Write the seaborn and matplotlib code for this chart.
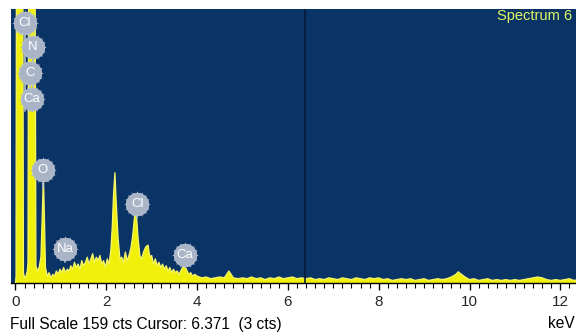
import numpy as np
import pandas as pd
import matplotlib
matplotlib.use("Agg")
import matplotlib.pyplot as plt
import seaborn as sns
from matplotlib.ticker import MultipleLocator

# ---------------- data ----------------
# low-energy part of the spectrum (keV, counts)
low_kev = [0.00, 0.012, 0.02, 0.16, 0.175, 0.20, 0.23, 0.26, 0.275, 0.29, 0.43, 0.45,
           0.48, 0.52, 0.56, 0.59, 0.615, 0.64, 0.66, 0.70,
           0.74, 0.78, 0.82, 0.86, 0.90, 0.94, 0.98, 1.02, 1.06, 1.10, 1.14, 1.18,
           1.22, 1.26, 1.30, 1.34, 1.38, 1.42, 1.46, 1.50, 1.54, 1.58, 1.62, 1.66,
           1.70, 1.74, 1.78, 1.82, 1.86, 1.90, 1.94, 1.98, 2.02, 2.06, 2.10, 2.13,
           2.16, 2.19, 2.22, 2.26, 2.30, 2.34, 2.38, 2.42, 2.46, 2.50, 2.54, 2.58,
           2.62, 2.66, 2.70, 2.74, 2.78, 2.82, 2.87, 2.92, 2.96, 3.00, 3.04, 3.08,
           3.12, 3.16, 3.20, 3.24, 3.28, 3.32, 3.36, 3.40, 3.44, 3.48, 3.52, 3.56,
           3.60, 3.64, 3.68, 3.73, 3.78, 3.82, 3.86, 3.90, 3.95, 4.00]
low_cts = [0, 4, 200, 200, 6, 3, 4, 7, 12, 200, 200, 10,
           7, 9, 15, 40, 63, 35, 9, 4,
           6, 3, 5, 4, 7, 5, 8, 6, 9, 6, 8, 7,
           10, 8, 12, 9, 11, 8, 13, 10, 12, 15, 11, 14,
           17, 12, 15, 13, 16, 11, 13, 9, 14, 11, 19, 32,
           52, 64, 46, 26, 14, 15, 12, 18, 13, 16, 20, 27,
           38, 41, 26, 16, 14, 18, 21, 22, 15, 16, 11, 14,
           10, 12, 9, 11, 8, 10, 7, 9, 6, 8, 6, 7,
           5, 7, 9, 10, 7, 5, 6, 4, 5, 4]
# high-energy part of the spectrum (keV, counts)
high_kev = [4.1, 4.2, 4.3, 4.4, 4.5, 4.6, 4.7, 4.8, 4.9, 5.0, 5.1, 5.2, 5.3, 5.4,
            5.5, 5.6, 5.7, 5.8, 5.9, 6.0, 6.1, 6.2, 6.3, 6.4, 6.5, 6.6, 6.7, 6.8,
            6.9, 7.0, 7.1, 7.2, 7.3, 7.4, 7.5, 7.6, 7.7, 7.8, 7.9, 8.0, 8.1, 8.2,
            8.3, 8.4, 8.5, 8.6, 8.7, 8.8, 8.9, 9.0, 9.1, 9.2, 9.3, 9.4, 9.5, 9.6,
            9.7, 9.75, 9.8, 9.9, 10.0, 10.1, 10.2, 10.3, 10.4, 10.5, 10.6, 10.7,
            10.8, 10.9, 11.0, 11.1, 11.2, 11.3, 11.4, 11.5, 11.6, 11.7, 11.8, 11.9,
            12.0, 12.1, 12.2, 12.3, 12.4, 12.5, 12.6, 12.7]
high_cts = [3.0, 3.5, 2.5, 3.0, 3.5, 3.0, 7.0, 3.0, 2.5, 3.0, 2.5, 3.5, 2.5, 3.0,
            2.0, 3.0, 2.5, 3.5, 2.5, 3.0, 3.5, 2.5, 3.0, 2.5, 3.0, 2.0, 2.5, 2.0,
            3.0, 2.5, 2.0, 3.0, 2.5, 2.0, 3.0, 2.5, 2.0, 3.0, 2.5, 3.0, 2.0, 2.5,
            1.5, 2.0, 2.5, 2.0, 2.5, 1.5, 2.0, 2.5, 1.5, 2.0, 2.5, 2.0, 2.5, 3.5,
            5.0, 6.5, 5.5, 3.5, 2.0, 2.5, 1.5, 2.0, 2.5, 1.5, 2.0, 1.5,
            2.0, 1.5, 2.0, 1.5, 2.0, 2.5, 3.0, 3.5, 3.0, 2.0, 1.5, 2.0,
            1.5, 2.0, 2.5, 1.5, 2.0, 1.5, 2.0, 1.5]

# element markers
label_names = ["Cl", "N", "C", "Ca", "O", "Na", "Cl", "Ca"]
label_kev = [0.21, 0.385, 0.32, 0.36, 0.60, 1.09, 2.68, 3.73]
label_cts = [151, 137, 122, 107, 65.5, 19.5, 46, 16]
label_tip = [100, 100, 100, 100, 55, 12, 38, 9]

full_scale = 159
cursor_kev = 6.371
cursor_cts = 3
x_ticks = [0, 2, 4, 6, 8, 10, 12]

spec = pd.DataFrame({"keV": low_kev + high_kev, "cts": low_cts + high_cts})

# ---------------- figure ----------------
sns.set_style("white")
plt.rcParams["font.family"] = ["Liberation Sans", "DejaVu Sans"]

W, H = 576, 333
fig = plt.figure(figsize=(W / 100, H / 100), dpi=100)
fig.patch.set_facecolor("white")
ax = fig.add_axes([11 / W, 50 / H, 579 / W, 274 / H])
ax.set_facecolor("#0b3466")

ax.fill_between(spec["keV"], spec["cts"], color="#f0f00a", lw=0, zorder=2)
sns.lineplot(data=spec, x="keV", y="cts", ax=ax, color="#f6f66a", lw=0.9,
             sort=False, estimator=None, zorder=3)
ax.axvline(cursor_kev, color="#061a38", lw=1.2, zorder=4)

# element labels
for nm, xk, yc, tip in zip(label_names, label_kev, label_cts, label_tip):
    ax.plot([xk, xk], [tip, yc], color="#b4bfd0", lw=1.2, zorder=5)
sns.scatterplot(x=label_kev, y=label_cts, ax=ax, s=330, marker=(16, 1, 0),
                color="#a9b4c7", edgecolor="#a9b4c7", linewidth=0.5, zorder=6,
                legend=False)
sns.scatterplot(x=label_kev, y=label_cts, ax=ax, s=260, color="#a9b4c7",
                edgecolor="#b8c2d2", linewidth=0.6, zorder=6, legend=False)
for nm, xk, yc in zip(label_names, label_kev, label_cts):
    ax.text(xk, yc, nm, color="white", fontsize=9.5, ha="center", va="center",
            zorder=7)

ax.set_xlim(-0.099, 12.654)
ax.set_ylim(0, full_scale)
ax.set_xticks(x_ticks)
ax.set_xticklabels([str(t) for t in x_ticks])
ax.xaxis.set_minor_locator(MultipleLocator(0.2))
ax.set_yticks([])
ax.set_xlabel("")
ax.set_ylabel("")
for s in ["top", "left", "right"]:
    ax.spines[s].set_visible(False)
ax.spines["bottom"].set_color("black")
ax.spines["bottom"].set_linewidth(1.0)
ax.tick_params(axis="x", which="major", direction="out", length=5, width=1,
               color="black", labelsize=11, pad=4, bottom=True)
ax.tick_params(axis="x", which="minor", direction="out", length=3.5, width=0.8,
               color="black", bottom=True)

fig.text(10 / W, 1 - 324 / H,
         f"Full Scale {full_scale} cts Cursor: {cursor_kev}  ({cursor_cts} cts)",
         ha="left", va="center", fontsize=11.2, color="black")
fig.text(575 / W, 1 - 324 / H, "keV", ha="right", va="center", fontsize=11.2,
         color="black")
fig.text(497 / W, 1 - 16 / H, "Spectrum 6", ha="left", va="center",
         fontsize=10.5, color="#e2f566")

fig.savefig("out.png", dpi=100)
